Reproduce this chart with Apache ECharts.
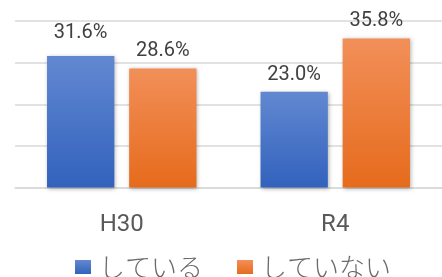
<!DOCTYPE html>
<html><head><meta charset="utf-8">
<style>html,body{margin:0;padding:0;background:#fff;}#c{width:442px;height:277px;}</style>
<script src="https://cdn.jsdelivr.net/npm/echarts@6/dist/echarts.min.js"></script>
</head><body><div id="c"></div>
<script>
const categories = ['H30', 'R4'];
const seriesNames = ['している', 'していない'];
const doing = [31.6, 23.0];
const notDoing = [28.6, 35.8];
const yTicks = [0, 10, 20, 30, 40];

const chart = echarts.init(document.getElementById('c'), null, {renderer: 'canvas'});
const grad = (top, bottom) => new echarts.graphic.LinearGradient(0, 0, 0, 1, [{offset: 0, color: top}, {offset: 1, color: bottom}]);
const labelFont = 'Roboto, "Liberation Sans", sans-serif';
const mkLabel = {show: true, position: 'top', distance: 7, color: '#404040', fontSize: 20, fontFamily: labelFont, formatter: p => p.value.toFixed(1) + '%'};
const shadow = {shadowBlur: 4, shadowColor: 'rgba(0,0,0,0.3)', shadowOffsetX: 1, shadowOffsetY: 1};
chart.setOption({
  animation: false,
  grid: {left: 15, right: 0, top: 21, bottom: 89.5},
  legend: {
    data: seriesNames, bottom: -8, left: 70, itemWidth: 16, itemHeight: 14, itemGap: 34,
    icon: 'rect',
    textStyle: {fontSize: 26, color: '#6a6a6a', fontFamily: '"Noto Sans CJK JP", sans-serif', fontWeight: 300, padding: [0, 0, 0, 3]}
  },
  xAxis: {
    type: 'category', data: categories,
    axisLine: {lineStyle: {color: '#d9d9d9', width: 1.5}}, axisTick: {show: false},
    axisLabel: {color: '#595959', fontSize: 24, margin: 25, fontFamily: labelFont}
  },
  yAxis: {
    type: 'value', min: yTicks[0], max: yTicks[yTicks.length - 1], interval: 10,
    axisLabel: {show: false}, axisLine: {show: false}, axisTick: {show: false},
    splitLine: {lineStyle: {color: '#d9d9d9', width: 1.5}}
  },
  series: [
    {name: seriesNames[0], type: 'bar', barGap: '22%', barCategoryGap: '30%',
     data: doing.map((v, i) => i === 0 ? {value: v, label: {distance: 13}} : v),
     itemStyle: Object.assign({color: grad('#6288d1', '#3262bd')}, shadow),
     label: mkLabel},
    {name: seriesNames[1], type: 'bar', data: notDoing,
     itemStyle: Object.assign({color: grad('#f28f59', '#e66b1c')}, shadow),
     label: mkLabel}
  ]
});
</script></body></html>
